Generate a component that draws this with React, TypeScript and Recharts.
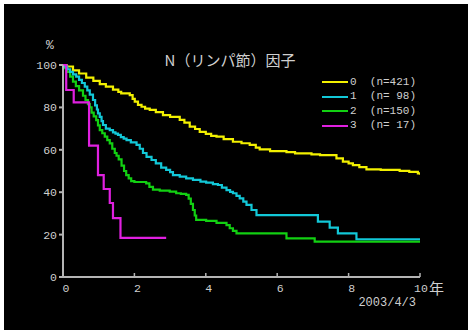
import { LineChart, Line, XAxis, YAxis } from 'recharts';

// survival step curves, years vs %
const n0Years = [0, 0.1, 0.28, 0.45, 0.65, 0.85, 1.03, 1.2, 1.4, 1.55, 1.63, 1.87, 1.95, 2.01, 2.1, 2.2, 2.3, 2.43, 2.6, 2.8, 3.0, 3.27, 3.4, 3.55, 3.7, 3.83, 4.0, 4.15, 4.3, 4.5, 4.76, 5.0, 5.23, 5.4, 5.51, 5.8, 6.26, 6.5, 6.96, 7.2, 7.66, 7.84, 8.0, 8.12, 8.3, 8.5, 8.9, 9.43, 9.7, 9.94, 10.0];
const n0Surv = [100, 99.3, 97.5, 96, 94, 92.5, 91, 89.8, 88.4, 87.3, 86.6, 85.8, 84, 82.7, 81.2, 80.3, 79.4, 78.8, 77.8, 76.4, 75.5, 74.1, 72.8, 70.9, 69.8, 68.5, 67.5, 66.6, 66.2, 65, 63.8, 63.1, 62.3, 61, 60.2, 59.4, 58.9, 58.3, 57.8, 57.5, 56, 54.4, 53.6, 52.8, 51.8, 50.8, 50.5, 50.1, 49.6, 48.9, 48.2];

const n1Years = [0, 0.05, 0.12, 0.2, 0.28, 0.37, 0.45, 0.53, 0.61, 0.68, 0.75, 0.84, 0.9, 0.95, 0.98, 1.03, 1.08, 1.12, 1.2, 1.31, 1.4, 1.47, 1.54, 1.62, 1.7, 1.78, 1.9, 2.06, 2.15, 2.24, 2.34, 2.48, 2.6, 2.75, 2.89, 3.0, 3.08, 3.27, 3.45, 3.64, 3.85, 4.01, 4.2, 4.34, 4.45, 4.58, 4.68, 4.76, 4.86, 4.95, 5.05, 5.14, 5.28, 5.42, 7.14, 7.47, 7.7, 8.22, 10];
const n1Surv = [100, 99.2, 98, 96.8, 95.6, 94.5, 93, 91.5, 89.8, 88, 86, 83.5, 81, 79, 77.2, 75.5, 73.5, 71.7, 70, 69.3, 68.2, 67.6, 67, 66, 65.3, 64.6, 63.5, 62.3, 60.5, 58.5, 56.7, 55.2, 53.6, 51.6, 50.5, 49.5, 48.1, 47.3, 46.5, 45.8, 45, 44.5, 43.8, 43.4, 42.2, 41, 40.2, 39.5, 38.3, 37.1, 35.6, 34, 31.6, 29.2, 26.1, 23.3, 20.6, 17.8, 17.8];

const n2Years = [0, 0.05, 0.12, 0.2, 0.28, 0.36, 0.45, 0.56, 0.63, 0.7, 0.75, 0.8, 0.86, 0.93, 0.98, 1.03, 1.1, 1.17, 1.24, 1.31, 1.38, 1.45, 1.5, 1.56, 1.64, 1.71, 1.77, 1.84, 1.91, 2.0, 2.33, 2.42, 2.52, 2.71, 2.99, 3.17, 3.3, 3.45, 3.52, 3.58, 3.64, 3.69, 3.73, 4.01, 4.3, 4.58, 4.67, 4.76, 4.86, 6.26, 7.05, 10];
const n2Surv = [100, 98.5, 96.8, 94.5, 92.2, 90, 88, 85.5, 83.5, 81.5, 80, 77.5, 75.8, 74, 71.5, 69.3, 67.8, 66.2, 64.6, 63, 60.5, 58.5, 57.2, 55.5, 52.5, 50, 48.1, 46.5, 45.2, 44.8, 44.2, 42.5, 41.2, 40.7, 40.3, 39.5, 39.2, 38.7, 37, 34.5, 31.6, 29, 26.9, 26.5, 25.5, 24.5, 23, 21.8, 20.6, 18.2, 16.7, 16.7];

const n3Years = [0, 0.09, 0.3, 0.73, 0.98, 1.14, 1.31, 1.4, 1.61, 2.89];
const n3Surv = [100, 88.2, 82.4, 62, 48.1, 41.5, 34.9, 27.8, 18.5, 18.5];

const groupNames = ['0', '1', '2', '3'];
const groupCounts = [421, 98, 150, 17];
const groupColors = ['#f2f000', '#12c8d8', '#12d012', '#e020e0'];

const xTicks = [0, 2, 4, 6, 8, 10];
const yTicks = [0, 20, 40, 60, 80, 100];

const toPoints = (years: number[], surv: number[]) =>
  years.map((t, i) => ({ t, s: surv[i] }));

const groups = [
  toPoints(n0Years, n0Surv),
  toPoints(n1Years, n1Surv),
  toPoints(n2Years, n2Surv),
  toPoints(n3Years, n3Surv),
];

const axisColor = '#b4b4b4';
const textColor = '#cfcfcf';
const mono = '"Liberation Mono", "DejaVu Sans Mono", monospace';
const cjk = '"Noto Sans CJK JP", "Noto Sans CJK SC", sans-serif';

const YearTick = (props: any) => {
  const { x, y, payload } = props;
  const last = payload.value === 10;
  return (
    <g>
      <line x1={x} x2={x} y1={y} y2={y - 4} stroke={axisColor} strokeWidth={1.5} />
      <text
        x={last ? x + 1 : x + 3}
        y={y + 15}
        textAnchor="middle"
        fill={textColor}
        fontSize={11.5}
        fontFamily={mono}
      >
        {payload.value}
      </text>
      {last && (
        <text x={x + 9} y={y + 16.5} fill={textColor} fontSize={15} fontFamily={cjk}>
          年
        </text>
      )}
    </g>
  );
};

export default function App() {
  return (
    <div style={{ position: 'absolute', left: 0, top: 0, width: 474, height: 333, background: '#fff' }}>
      <div style={{ position: 'absolute', left: 4, top: 4, width: 464, height: 326, background: '#000' }} />
      <div style={{ position: 'absolute', left: 0, top: 0 }}>
        <LineChart width={474} height={333} margin={{ top: 65, right: 54, bottom: 26, left: 23 }}>
          <XAxis
            dataKey="t"
            type="number"
            domain={[0, 10]}
            ticks={xTicks}
            height={30}
            stroke={axisColor}
            strokeWidth={2}
            tickLine={false}
            tickSize={0}
            tickMargin={0}
            tick={<YearTick />}
            allowDataOverflow
          />
          <YAxis
            type="number"
            domain={[0, 100]}
            ticks={yTicks}
            width={40}
            stroke={axisColor}
            strokeWidth={2}
            tickSize={4}
            tickMargin={2}
            tick={{ fill: textColor, fontSize: 11.5, fontFamily: mono }}
          />
          {[0, 2, 1, 3].map((g) => (
            <Line
              key={g}
              data={groups[g]}
              dataKey="s"
              type="stepAfter"
              stroke={groupColors[g]}
              strokeWidth={2.2}
              dot={false}
              isAnimationActive={false}
            />
          ))}
        </LineChart>
      </div>
      <div
        style={{
          position: 'absolute', left: 46, top: 38, color: textColor,
          fontSize: 13, fontFamily: mono,
        }}
      >
        %
      </div>
      <div
        style={{
          position: 'absolute', left: 100, width: 260, top: 50, textAlign: 'center',
          color: textColor, fontSize: 15, fontFamily: cjk, lineHeight: '20px',
        }}
      >
        N（リンパ節）因子
      </div>
      {groupNames.map((name, i) => (
        <div
          key={name}
          style={{
            position: 'absolute', left: 322, top: 74.5 + i * 14.6, height: 15,
            display: 'flex', alignItems: 'center', whiteSpace: 'pre',
          }}
        >
          <div style={{ width: 26, height: 2.2, background: groupColors[i] }} />
          <span style={{ color: textColor, fontSize: 11, fontFamily: mono, marginLeft: 2, lineHeight: '15px' }}>
            {`${name}  (n=${String(groupCounts[i]).padStart(3, ' ')})`}
          </span>
        </div>
      ))}
      <div
        style={{
          position: 'absolute', left: 300, width: 116, top: 296, textAlign: 'right',
          color: textColor, fontSize: 12, fontFamily: mono, lineHeight: '14px',
        }}
      >
        2003/4/3
      </div>
    </div>
  );
}
